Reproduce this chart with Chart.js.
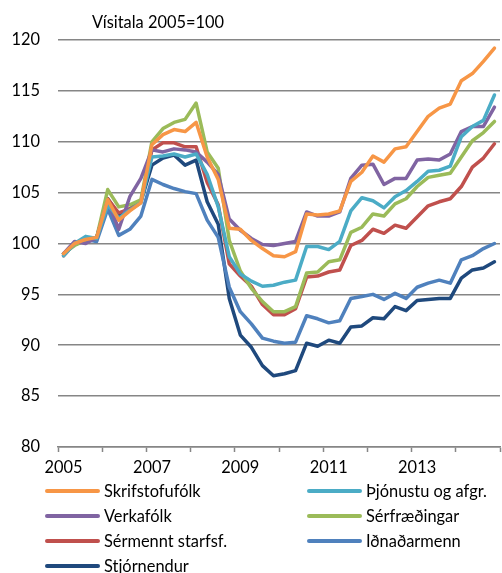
<!DOCTYPE html>
<html><head><meta charset="utf-8">
<script src="https://cdn.jsdelivr.net/npm/chart.js@4.4.0/dist/chart.umd.min.js"></script>
<style>
html,body{margin:0;padding:0;background:#fff;}
#wrap{position:relative;width:502px;height:573px;font-family:Lato,"Liberation Sans",sans-serif;color:#000;overflow:hidden;}
canvas{position:absolute;left:0;top:0;}
#title{position:absolute;left:92px;top:12px;font-size:16.4px;line-height:20px;white-space:nowrap;}
.lg{position:absolute;font-size:16.4px;line-height:20px;height:20px;display:flex;align-items:center;white-space:nowrap;}
.lg .sw{display:inline-block;width:55px;height:4px;border-radius:2px;margin-right:4px;}
</style></head><body>
<div id="wrap"><canvas id="c" width="502" height="573"></canvas><div id="title">Vísitala 2005=100</div><div id="legend"></div></div>
<script>
// Categories: quarterly, 2005 Q1 – 2014 Q4
const quarters = ['2005Q1','2005Q2','2005Q3','2005Q4','2006Q1','2006Q2','2006Q3','2006Q4',
  '2007Q1','2007Q2','2007Q3','2007Q4','2008Q1','2008Q2','2008Q3','2008Q4',
  '2009Q1','2009Q2','2009Q3','2009Q4','2010Q1','2010Q2','2010Q3','2010Q4',
  '2011Q1','2011Q2','2011Q3','2011Q4','2012Q1','2012Q2','2012Q3','2012Q4',
  '2013Q1','2013Q2','2013Q3','2013Q4','2014Q1','2014Q2','2014Q3','2014Q4'];
const yearLabels = ['2005','2007','2009','2011','2013'];
const yTicks = [80,85,90,95,100,105,110,115,120];
const titleText = 'Vísitala 2005=100';

const seriesNames = ['Skrifstofufólk','Þjónustu og afgr.','Verkafólk','Sérfræðingar','Sérmennt starfsf.','Iðnaðarmenn','Stjórnendur'];
const seriesColors = ['#F79646','#4BACC6','#8064A2','#9BBB59','#C0504D','#4F81BD','#1F497D'];

const skrifstofufolk = [99.0,100.0,100.4,100.6,104.3,102.3,103.2,104.0,109.7,110.7,111.2,111.0,111.9,108.5,106.3,101.5,101.4,100.3,99.5,98.8,98.7,99.2,102.9,102.8,102.9,103.2,106.1,107.0,108.6,108.0,109.3,109.5,111.0,112.5,113.3,113.7,116.0,116.7,117.9,119.2];
const thjonustu = [98.8,100.0,100.7,100.5,103.8,102.5,103.3,104.0,108.5,108.6,108.8,108.5,108.8,106.8,103.6,98.7,97.0,96.3,95.8,95.9,96.2,96.4,99.7,99.7,99.4,100.2,103.2,104.5,104.2,103.5,104.6,105.2,106.1,107.1,107.2,107.6,110.5,111.5,112.1,114.6];
const verkafolk = [99.0,100.2,100.0,100.6,104.2,101.4,104.6,106.4,109.2,109.0,109.3,109.2,109.0,108.0,106.8,102.4,101.3,100.5,99.9,99.8,100.0,100.2,103.1,102.7,102.7,103.1,106.4,107.7,107.8,105.8,106.4,106.4,108.2,108.3,108.2,108.8,111.0,111.5,111.5,113.4];
const serfraedingar = [99.0,99.8,100.3,100.6,105.3,103.6,103.8,104.3,110.0,111.3,111.9,112.2,113.8,109.0,107.4,100.3,97.3,95.6,94.3,93.3,93.3,93.8,97.1,97.2,98.2,98.4,101.1,101.6,102.9,102.7,103.9,104.4,105.6,106.5,106.7,106.9,108.5,110.1,110.9,112.0];
const sermennt = [98.8,100.0,100.5,100.5,104.4,103.0,103.4,104.1,109.2,109.9,109.9,109.5,109.5,106.0,103.8,98.0,96.8,95.8,94.0,93.0,93.0,93.6,96.7,96.8,97.2,97.4,99.8,100.3,101.4,101.0,101.8,101.5,102.6,103.7,104.1,104.4,105.6,107.5,108.4,109.8];
const idnadarmenn = [99.0,100.0,100.4,100.2,103.4,100.8,101.4,102.7,106.3,105.8,105.4,105.1,104.9,102.3,100.6,95.7,93.3,92.1,90.7,90.4,90.2,90.3,92.9,92.6,92.2,92.4,94.6,94.8,95.0,94.5,95.1,94.6,95.7,96.1,96.4,96.1,98.4,98.8,99.5,100.0];
const stjornendur = [99.0,99.9,100.3,100.6,104.4,102.8,103.4,104.1,107.7,108.4,108.7,107.7,108.2,104.1,101.9,94.6,91.0,89.8,88.0,87.0,87.2,87.5,90.2,89.9,90.5,90.2,91.8,91.9,92.7,92.6,93.8,93.4,94.4,94.5,94.6,94.6,96.6,97.4,97.6,98.2];

const seriesValues = [skrifstofufolk, thjonustu, verkafolk, serfraedingar, sermennt, idnadarmenn, stjornendur];

const FONT = 'Lato';
const FSIZE = 16.4;
const GRID = '#868686';

document.getElementById('title').textContent = titleText;

const datasets = seriesNames.map((n, k) => ({
  label: n,
  data: seriesValues[k],
  borderColor: seriesColors[k],
  backgroundColor: seriesColors[k],
  borderWidth: 3.5,
  pointRadius: 0,
  tension: 0,
  fill: false,
  borderJoinStyle: 'round',
  borderCapStyle: 'round'
}));

new Chart(document.getElementById('c').getContext('2d'), {
  type: 'line',
  data: { labels: quarters, datasets },
  options: {
    responsive: false,
    animation: false,
    layout: { padding: { left: 0, right: 2, top: 40, bottom: 91 } },
    plugins: { legend: { display: false }, tooltip: { enabled: false }, title: { display: false } },
    scales: {
      x: {
        type: 'category',
        offset: true,
        grid: {
          display: true,
          drawOnChartArea: false,
          offset: true,
          tickLength: 5,
          tickWidth: 1.5,
          tickColor: c => (c.index === undefined || c.index % 4 === 0) ? GRID : 'rgba(0,0,0,0)'
        },
        border: { display: true, color: GRID, width: 1.6 },
        ticks: {
          autoSkip: false, maxRotation: 0, minRotation: 0, padding: 6,
          color: '#000', font: { family: FONT, size: FSIZE },
          callback: (v, i) => (i % 8 === 0) ? yearLabels[i / 8] : ''
        },
        afterFit: s => { s.height = 35; }
      },
      y: {
        min: 80, max: 120,
        afterBuildTicks: s => { s.ticks = yTicks.map(v => ({ value: v })); },
        grid: { color: GRID, lineWidth: 1.6, drawTicks: false },
        border: { display: false },
        ticks: { padding: 18, color: '#000', font: { family: FONT, size: FSIZE } },
        afterFit: s => { s.width = 58; }
      }
    }
  }
});

// HTML legend (2 columns, row-major like the original)
const legend = document.getElementById('legend');
const colX = [45, 307];
const rowY = [481, 506, 531, 556];
seriesNames.forEach((n, k) => {
  const d = document.createElement('div');
  d.className = 'lg';
  d.style.left = colX[k % 2] + 'px';
  d.style.top = rowY[Math.floor(k / 2)] + 'px';
  const sw = document.createElement('span');
  sw.className = 'sw';
  sw.style.background = seriesColors[k];
  d.appendChild(sw);
  d.appendChild(document.createTextNode(n));
  legend.appendChild(d);
});
</script>
</body></html>
